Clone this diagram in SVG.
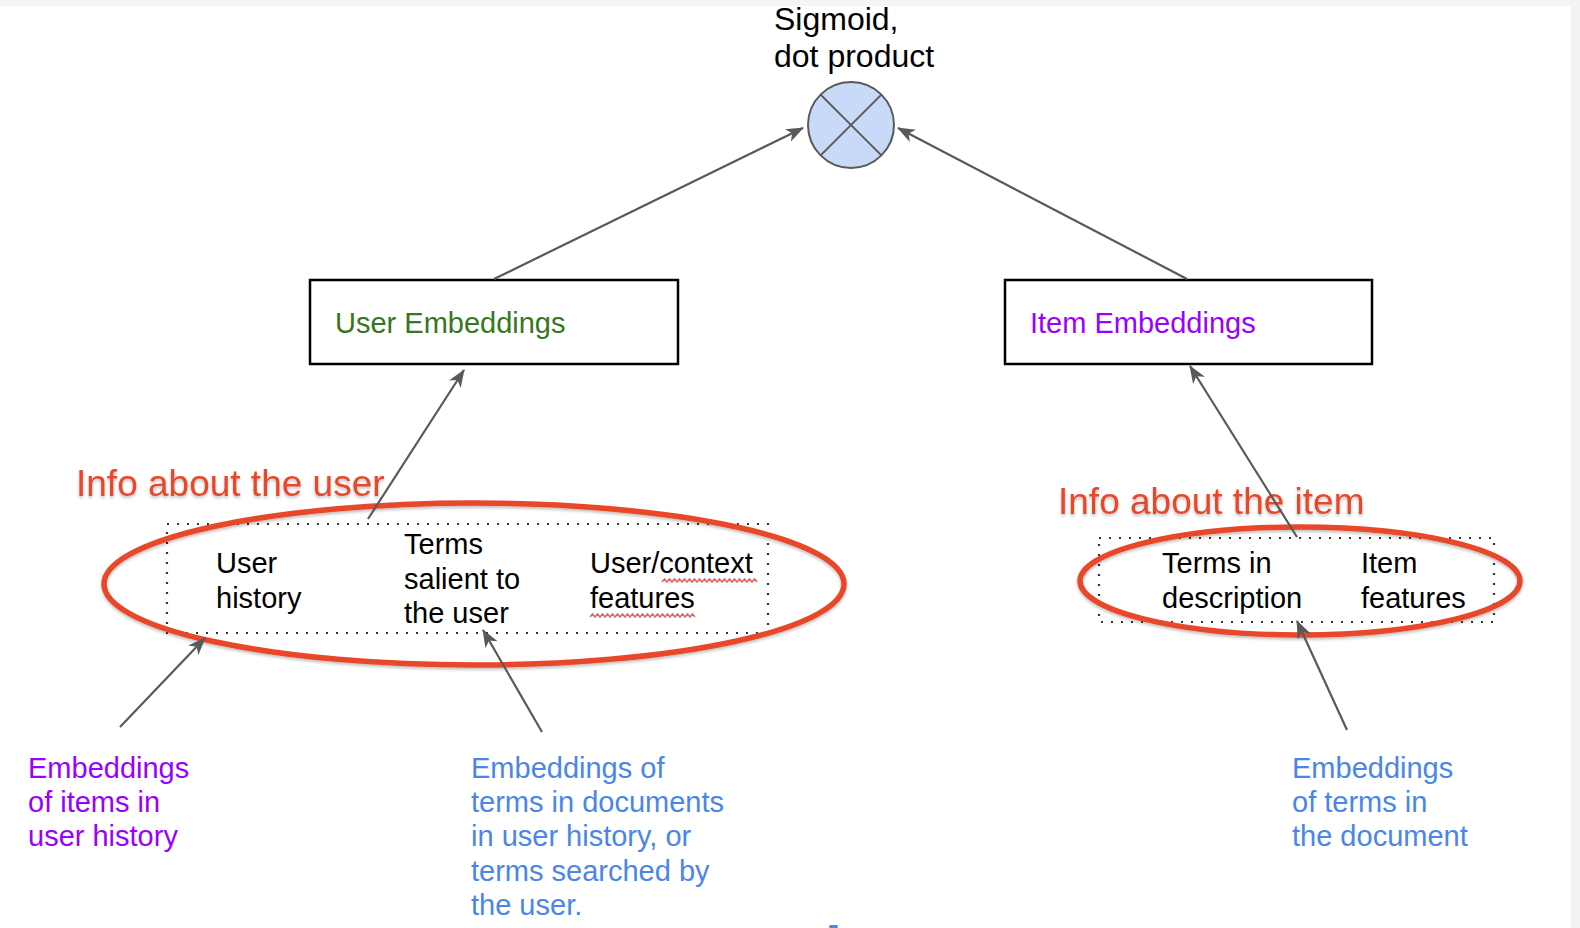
<svg xmlns="http://www.w3.org/2000/svg" width="1580" height="928" viewBox="0 0 1580 928">
<defs>
<marker id="arr" viewBox="0 0 18 14" refX="17" refY="7" markerWidth="18" markerHeight="14" markerUnits="userSpaceOnUse" orient="auto">
<path d="M0,0 L18,7 L0,14 L5,7 Z" fill="#595959"/>
</marker>
<filter id="sh" x="-10%" y="-10%" width="120%" height="130%">
<feDropShadow dx="0" dy="2" stdDeviation="1.5" flood-color="#000" flood-opacity="0.25"/>
</filter>
</defs>
<style>
text{font-family:"Liberation Sans",Arial,sans-serif}
.blk{fill:#000;font-size:29px}
.top{fill:#000;font-size:32px}
.box{fill:#fff;stroke:#000;stroke-width:2.5}
.dot{fill:none;stroke:#333;stroke-width:2.2;stroke-dasharray:2 8}
.red{fill:none;stroke:#e8472a;stroke-width:5.5}
.info{fill:#e8472a;font-size:37px}
.con{fill:none;stroke:#595959;stroke-width:2.2;marker-end:url(#arr)}
.purple{fill:#9900ff;font-size:29px}
.blue{fill:#4a86e8;font-size:29px}
.sq{fill:none;stroke:#e06666;stroke-width:1.5}
</style>
<rect x="0" y="0" width="1580" height="928" fill="#fff"/>
<rect x="0" y="0" width="1580" height="6" fill="#f5f5f5"/>
<rect x="1571" y="0" width="9" height="928" fill="#f3f3f3"/>

<g id="sigmoid">
<text class="top" x="774" y="30">Sigmoid,</text>
<text class="top" x="774" y="67">dot product</text>
<circle cx="851" cy="125" r="43" fill="#c9daf8" stroke="#595959" stroke-width="2"/>
<line x1="820.6" y1="94.6" x2="881.4" y2="155.4" stroke="#595959" stroke-width="2"/>
<line x1="881.4" y1="94.6" x2="820.6" y2="155.4" stroke="#595959" stroke-width="2"/>
</g>

<g id="user-embeddings">
<rect class="box" x="310" y="280" width="368" height="84"/>
<text x="335" y="333" style="fill:#38761d;font-size:29px">User Embeddings</text>
</g>

<g id="item-embeddings">
<rect class="box" x="1005" y="280" width="367" height="84"/>
<text x="1030" y="333" style="fill:#9900ff;font-size:29px">Item Embeddings</text>
</g>

<g id="user-info">
<rect class="dot" x="167" y="524" width="601" height="109"/>
<text class="blk" x="216" y="573">User</text>
<text class="blk" x="216" y="608">history</text>
<text class="blk" x="404" y="554">Terms</text>
<text class="blk" x="404" y="589">salient to</text>
<text class="blk" x="404" y="623">the user</text>
<text class="blk" x="590" y="573">User/context</text>
<text class="blk" x="590" y="608">features</text>
<path class="sq" d="M662,582 l2.5,-3 2.5,3 2.5,-3 2.5,3 2.5,-3 2.5,3 2.5,-3 2.5,3 2.5,-3 2.5,3 2.5,-3 2.5,3 2.5,-3 2.5,3 2.5,-3 2.5,3 2.5,-3 2.5,3 2.5,-3 2.5,3 2.5,-3 2.5,3 2.5,-3 2.5,3 2.5,-3 2.5,3 2.5,-3 2.5,3 2.5,-3 2.5,3 2.5,-3 2.5,3 2.5,-3 2.5,3 2.5,-3 2.5,3 2.5,-3 2.5,3"/>
<path class="sq" d="M590,617 l2.5,-3 2.5,3 2.5,-3 2.5,3 2.5,-3 2.5,3 2.5,-3 2.5,3 2.5,-3 2.5,3 2.5,-3 2.5,3 2.5,-3 2.5,3 2.5,-3 2.5,3 2.5,-3 2.5,3 2.5,-3 2.5,3 2.5,-3 2.5,3 2.5,-3 2.5,3 2.5,-3 2.5,3 2.5,-3 2.5,3 2.5,-3 2.5,3 2.5,-3 2.5,3 2.5,-3 2.5,3 2.5,-3 2.5,3 2.5,-3 2.5,3 2.5,-3 2.5,3 2.5,-3 2.5,3"/>
<ellipse class="red" cx="474" cy="584" rx="370" ry="81" filter="url(#sh)"/>
<text class="info" x="76" y="496" filter="url(#sh)">Info about the user</text>
</g>

<g id="item-info">
<rect class="dot" x="1099" y="538" width="395" height="84"/>
<text class="blk" x="1162" y="573">Terms in</text>
<text class="blk" x="1162" y="608">description</text>
<text class="blk" x="1361" y="573">Item</text>
<text class="blk" x="1361" y="608">features</text>
<ellipse class="red" cx="1300" cy="581" rx="220" ry="54" filter="url(#sh)"/>
<text class="info" x="1058" y="514" filter="url(#sh)">Info about the item</text>
</g>

<g id="label-items-history">
<text class="purple" x="28" y="778">Embeddings</text>
<text class="purple" x="28" y="812">of items in</text>
<text class="purple" x="28" y="846">user history</text>
</g>

<g id="label-terms-docs">
<text class="blue" x="471" y="778">Embeddings of</text>
<text class="blue" x="471" y="812">terms in documents</text>
<text class="blue" x="471" y="846">in user history, or</text>
<text class="blue" x="471" y="881">terms searched by</text>
<text class="blue" x="471" y="915">the user.</text>
</g>

<g id="label-terms-document">
<text class="blue" x="1292" y="778">Embeddings</text>
<text class="blue" x="1292" y="812">of terms in</text>
<text class="blue" x="1292" y="846">the document</text>
</g>

<rect x="829" y="925" width="9" height="3" rx="1.5" fill="#4a86e8"/>

<g id="connectors">
<line class="con" x1="494" y1="279" x2="803" y2="128"/>
<line class="con" x1="1187" y1="279" x2="898" y2="128"/>
<line class="con" x1="368" y1="519" x2="464" y2="370"/>
<line class="con" x1="1297" y1="537" x2="1190" y2="366"/>
<line class="con" x1="120" y1="727" x2="205" y2="638"/>
<line class="con" x1="542" y1="732" x2="483" y2="630"/>
<line class="con" x1="1347" y1="730" x2="1297" y2="621"/>
</g>
</svg>
